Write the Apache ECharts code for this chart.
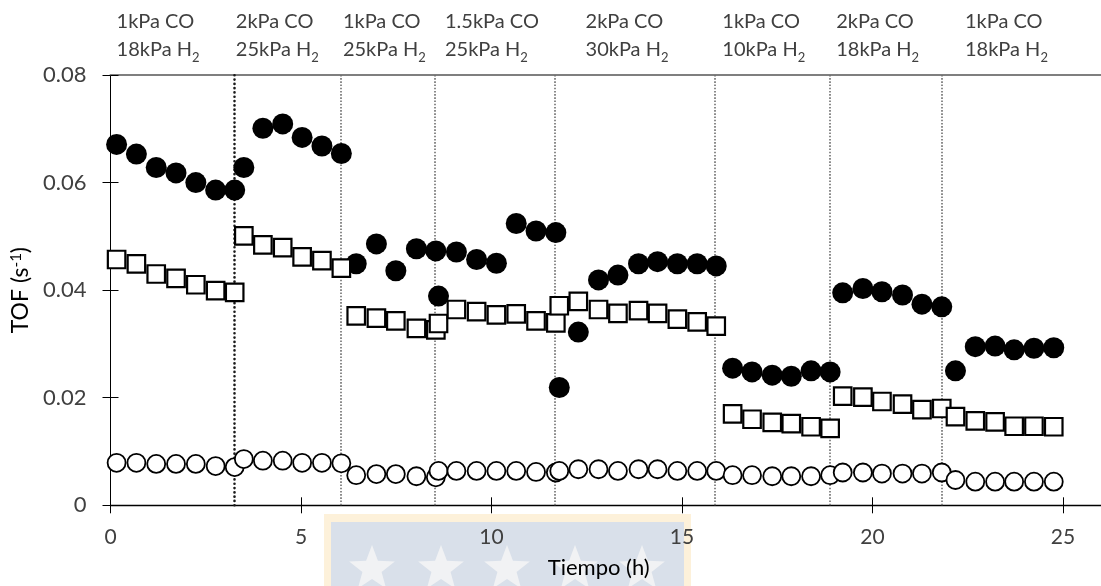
<!DOCTYPE html>
<html>
<head>
<meta charset="utf-8">
<script src="https://cdn.jsdelivr.net/npm/echarts@6/dist/echarts.min.js"></script>
<style>
  html, body { margin: 0; padding: 0; background: #ffffff; }
  #chart { width: 1101px; height: 586px; }
</style>
</head>
<body>
<div id="chart"></div>
<script>
// Time on stream (h) for each sample
const timeH = [0.16, 0.68, 1.20, 1.72, 2.24, 2.76, 3.26, 3.50, 4.00, 4.52, 5.03, 5.55, 6.06,
  6.45, 6.98, 7.49, 8.03, 8.54, 8.61, 9.08, 9.61, 10.13, 10.65, 11.17, 11.69, 11.78,
  12.28, 12.81, 13.32, 13.86, 14.36, 14.88, 15.40, 15.90,
  16.33, 16.84, 17.37, 17.87, 18.39, 18.89,
  19.22, 19.75, 20.25, 20.79, 21.30, 21.82,
  22.18, 22.70, 23.22, 23.72, 24.24, 24.76];

// TOF (s^-1), filled circles
const tofFilledCircle = [0.0671, 0.0653, 0.0628, 0.0618, 0.0600, 0.0586, 0.0586, 0.0628, 0.0701, 0.0709, 0.0684, 0.0668, 0.0654,
  0.0449, 0.0486, 0.0436, 0.0477, 0.0473, 0.0389, 0.0471, 0.0457, 0.0450, 0.0524, 0.0510, 0.0507, 0.0219,
  0.0322, 0.0419, 0.0428, 0.0449, 0.0453, 0.0449, 0.0449, 0.0445,
  0.0255, 0.0248, 0.0242, 0.0240, 0.0250, 0.0248,
  0.0395, 0.0403, 0.0397, 0.0391, 0.0374, 0.0369,
  0.0250, 0.0295, 0.0296, 0.0289, 0.0292, 0.0293];

// TOF (s^-1), open squares
const tofOpenSquare = [0.0457, 0.0449, 0.0430, 0.0422, 0.0410, 0.0399, 0.0396, 0.0501, 0.0484, 0.0479, 0.0462, 0.0455, 0.0441,
  0.0352, 0.0348, 0.0343, 0.0329, 0.0326, 0.0338, 0.0364, 0.0360, 0.0354, 0.0356, 0.0343, 0.0339, 0.0371,
  0.0379, 0.0364, 0.0357, 0.0362, 0.0357, 0.0346, 0.0341, 0.0333,
  0.0170, 0.0160, 0.0154, 0.0152, 0.0146, 0.0143,
  0.0203, 0.0201, 0.0193, 0.0188, 0.0178, 0.0180,
  0.0165, 0.0157, 0.0155, 0.0147, 0.0147, 0.0146];

// TOF (s^-1), open circles
const tofOpenCircle = [0.0079, 0.0079, 0.0077, 0.0077, 0.0077, 0.0073, 0.0071, 0.0086, 0.0083, 0.0083, 0.0079, 0.0079, 0.0078,
  0.0056, 0.0058, 0.0058, 0.0054, 0.0052, 0.0064, 0.0064, 0.0064, 0.0064, 0.0064, 0.0062, 0.0061, 0.0064,
  0.0067, 0.0067, 0.0064, 0.0067, 0.0067, 0.0064, 0.0064, 0.0064,
  0.0056, 0.0056, 0.0054, 0.0054, 0.0054, 0.0056,
  0.0061, 0.0061, 0.0059, 0.0059, 0.0059, 0.0061,
  0.0047, 0.0044, 0.0044, 0.0044, 0.0044, 0.0044];

// Times (h) where the feed composition was switched
const switchTimes = [3.26, 6.04, 8.52, 11.67, 15.87, 18.88, 21.81];

// Feed conditions for each period and the time where each caption starts
const coLabels = ['1kPa CO', '2kPa CO', '1kPa CO', '1.5kPa CO', '2kPa CO', '1kPa CO', '2kPa CO', '1kPa CO'];
const h2Labels = ['18kPa', '25kPa', '25kPa', '25kPa', '30kPa', '10kPa', '18kPa', '18kPa'];
const captionStart = [0.16, 3.29, 6.10, 8.78, 12.47, 16.06, 19.05, 22.43];

const xTickValues = [0, 5, 10, 15, 20, 25];

const FONT = 'Lato, "Open Sans", sans-serif';
const TEXT = '#404040';

function pairs(values) {
  return timeH.map((t, i) => [t, values[i]]);
}

const chart = echarts.init(document.getElementById('chart'), null, { renderer: 'canvas' });

const option = {
  animation: false,
  backgroundColor: '#ffffff',
  grid: { left: 110.5, right: -8, top: 75, bottom: 80.7, containLabel: false },
  xAxis: [
    {
      type: 'value', min: 0, max: 26, interval: 5, position: 'bottom',
      axisLine: { onZero: false, lineStyle: { color: '#000000', width: 1.3 } },
      axisTick: { show: true, length: 8, customValues: xTickValues, lineStyle: { color: '#000000', width: 1 } },
      axisLabel: { customValues: xTickValues, color: TEXT, fontSize: 21, fontFamily: FONT, margin: 21 },
      splitLine: { show: false },
      name: 'Tiempo (h)', nameLocation: 'middle', nameGap: 52,
      nameTextStyle: { color: '#000000', fontSize: 22, fontFamily: FONT, padding: [0, 14, 0, 0] }
    },
    {
      type: 'value', min: 0, max: 26, interval: 5, position: 'bottom',
      axisLine: { show: false, onZero: false },
      axisTick: { show: true, inside: true, length: 8, customValues: xTickValues, lineStyle: { color: '#000000', width: 1 } },
      axisLabel: { show: false },
      splitLine: { show: false }
    },
    {
      type: 'value', min: 0, max: 26, position: 'top',
      axisLine: { onZero: false, lineStyle: { color: '#7f7f7f', width: 2 } },
      axisTick: { show: false },
      axisLabel: { show: false },
      splitLine: { show: false }
    }
  ],
  yAxis: [
    {
      type: 'value', min: 0, max: 0.08, interval: 0.02, position: 'left',
      axisLine: { show: true, onZero: false, lineStyle: { color: '#000000', width: 1 } },
      axisTick: { show: true, length: 8, lineStyle: { color: '#000000', width: 1 } },
      axisLabel: { color: TEXT, fontSize: 22, fontFamily: FONT, margin: 24 },
      splitLine: { show: false },
      name: 'TOF (s{s|-1})', nameLocation: 'middle', nameGap: 67, nameRotate: 90,
      nameTextStyle: {
        color: '#000000', fontSize: 23, fontFamily: FONT,
        rich: {
          s: { color: '#000000', fontSize: 15, fontFamily: FONT, verticalAlign: 'top' }
        }
      }
    },
    {
      type: 'value', min: 0, max: 0.08, interval: 0.02, position: 'left',
      axisLine: { show: false, onZero: false },
      axisTick: { show: true, inside: true, length: 8, lineStyle: { color: '#000000', width: 1 } },
      axisLabel: { show: false },
      splitLine: { show: false }
    }
  ],
  series: [
    {
      type: 'line', data: [], z: 1,
      markLine: {
        silent: true, symbol: ['none', 'none'], animation: false,
        label: { show: false },
        data: switchTimes.map((t, i) => ({
          xAxis: t,
          lineStyle: i === 0
            ? { color: '#1a1a1a', width: 2.6, type: [0.1, 4.2], cap: 'round' }
            : { color: '#6f6f6f', width: 1.6, type: [1.6, 1.6] }
        }))
      }
    },
    {
      name: 'filled', type: 'scatter', z: 10, data: pairs(tofFilledCircle),
      symbol: 'circle', symbolSize: 21,
      itemStyle: { color: '#000000', opacity: 1 }
    },
    {
      name: 'square', type: 'scatter', z: 11, data: pairs(tofOpenSquare),
      symbol: 'rect', symbolSize: 17.5,
      itemStyle: { color: '#ffffff', borderColor: '#000000', borderWidth: 2.2, opacity: 1 }
    },
    {
      name: 'open', type: 'scatter', z: 12, data: pairs(tofOpenCircle),
      symbol: 'circle', symbolSize: 18,
      itemStyle: { color: '#ffffff', borderColor: '#000000', borderWidth: 1.8, opacity: 1 }
    }
  ]
};

chart.setOption(option);

// Star outline for the crest behind the axis title
function starPoints(cx, cy, r) {
  const pts = [];
  for (let k = 0; k < 10; k++) {
    const rad = k % 2 === 0 ? r : r * 0.42;
    const a = -Math.PI / 2 + k * Math.PI / 5;
    pts.push([cx + rad * Math.cos(a), cy + rad * Math.sin(a)]);
  }
  return pts;
}

const crest = [
  { type: 'rect', z: -10, shape: { x: 324, y: 514, width: 367, height: 80 }, style: { fill: '#fdf1da' } },
  { type: 'rect', z: -9, shape: { x: 331, y: 522, width: 353, height: 70 }, style: { fill: '#d9e0ea' } }
];
[372, 441, 507, 575, 642].forEach(cx => {
  crest.push({ type: 'polygon', z: -8, shape: { points: starPoints(cx, 569, 24) }, style: { fill: '#f1f2f4' } });
});

// Feed-condition captions above the plot
const captions = coLabels.map((co, i) => ({
  type: 'text',
  z: 5,
  x: chart.convertToPixel({ xAxisIndex: 0 }, captionStart[i]),
  y: 8,
  style: {
    text: '{t|' + co + '}\n{t|' + h2Labels[i] + ' H}{s|2}',
    rich: {
      t: { fill: TEXT, fontSize: 20, fontFamily: FONT, lineHeight: 28 },
      s: { fill: TEXT, fontSize: 13, fontFamily: FONT, verticalAlign: 'bottom', lineHeight: 13 }
    }
  }
}));

chart.setOption({ graphic: { elements: crest.concat(captions) } });
</script>
</body>
</html>
